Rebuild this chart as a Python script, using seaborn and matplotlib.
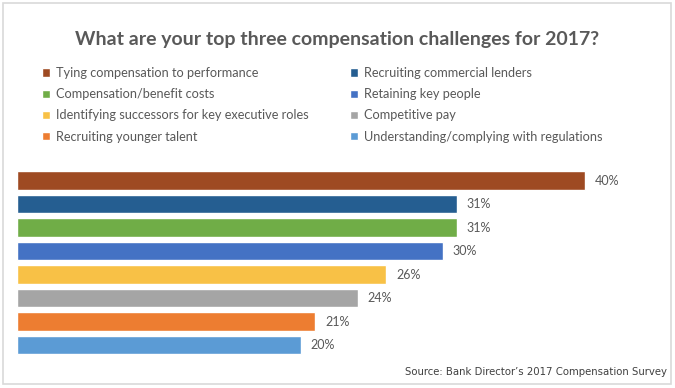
import matplotlib
matplotlib.use("Agg")
import matplotlib.pyplot as plt
from matplotlib.patches import Patch, Rectangle
import pandas as pd
import seaborn as sns

# survey answers, in chart order
challenges = [
    "Tying compensation to performance",
    "Recruiting commercial lenders",
    "Compensation/benefit costs",
    "Retaining key people",
    "Identifying successors for key executive roles",
    "Competitive pay",
    "Recruiting younger talent",
    "Understanding/complying with regulations",
]
pct = [40, 31, 31, 30, 26, 24, 21, 20]
colors = ["#9E4A22", "#255E91", "#70AD47", "#4472C4",
          "#F8C146", "#A5A5A5", "#ED7D31", "#5B9BD5"]

df = pd.DataFrame({"challenge": challenges, "pct": pct})

sns.set_style("white")
plt.rcParams["font.family"] = ["Lato", "DejaVu Sans"]

fig = plt.figure(figsize=(6.75, 3.88), dpi=100)
fig.patches.append(Rectangle((3 / 675, 4 / 388), 668 / 675, 381 / 388,
                             transform=fig.transFigure, fill=False,
                             edgecolor="#D9D9D9", linewidth=1.2))

ax = fig.add_axes([17 / 675, 0.0805, 639 / 675, 0.4845])
sns.barplot(data=df, x="pct", y="challenge", hue="challenge",
            palette=colors, dodge=False, legend=False, width=0.8,
            saturation=1, ax=ax)
ax.set_xlim(0, 45)
ax.set_ylim(7.5, -0.5)
ax.set_axis_off()
for c in ax.containers:
    ax.bar_label(c, fmt="%d%%", padding=7, fontsize=9, color="#595959")

fig.text(0.5, 1 - 39 / 388, "What are your top three compensation challenges for 2017?",
         ha="center", va="center", fontsize=14, fontweight="bold", color="#595959")

handles = [Patch(facecolor=c, label=l) for c, l in zip(colors, challenges)]
left = handles[0::2]
right = handles[1::2]
for hs, x in [(left, 42 / 675), (right, 350 / 675)]:
    fig.legend(handles=hs, loc="upper left", bbox_to_anchor=(x, 1 - 67 / 388),
               frameon=False, fontsize=9.2, labelcolor="#595959",
               handlelength=0.6, handleheight=0.6, handletextpad=0.5,
               labelspacing=0.72, borderpad=0, borderaxespad=0)

fig.text(667 / 675, 1 - 372 / 388, "Source: Bank Director\u2019s 2017 Compensation Survey",
         ha="right", va="center", fontsize=8.1, color="#404040",
         family="DejaVu Sans", fontstretch="condensed")

fig.savefig("out.png", dpi=100, facecolor="white")
